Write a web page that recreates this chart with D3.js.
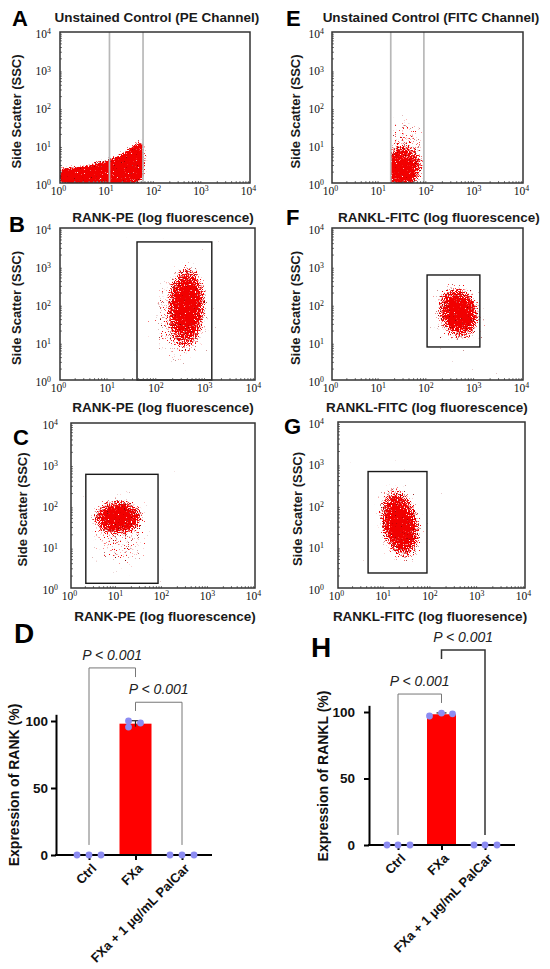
<!DOCTYPE html>
<html>
<head>
<meta charset="utf-8">
<script src="https://cdn.jsdelivr.net/npm/d3@7"></script>
<style>
  body { margin: 0; background: #fff; }
  svg { display: block; font-family: "Liberation Sans", Arial, sans-serif; }
</style>
</head>
<body>
<div id="figure"></div>
<script>
const width = 550;
const height = 969;

// log axes of the flow plots (decades)
const logTicks = [1, 10, 100, 1000, 10000];
const logTickExp = ["0", "1", "2", "3", "4"];
const minorTicks = [];
[1, 10, 100, 1000].forEach(d => { for (let m = 2; m < 10; m++) minorTicks.push(d * m); });

// gates (fluorescence / SSC units)
const gateAx = [11, 56];
const gateEx = [17, 84];
const gateBx = [38, 1300], gateBy = [1, 4300];
const gateFx = [98, 1250], gateFy = [7.4, 580];
const gateCx = [2.1, 78], gateCy = [1.3, 570];
const gateGx = [4.4, 80], gateGy = [2.3, 640];

// cell populations: [centre x, centre y, spread x (decades), spread y (decades), tilt deg, density]
const cloudAOutline = [[1, 1.04], [1, 2.3], [3, 2.9], [10, 4.2], [20, 6.3], [36, 10.5], [52, 13], [60, 8], [60, 2], [48, 1.04]];
const cloudE = [[28, 2.4, 0.38, 0.5, 0, 1], [36, 7, 0.4, 0.9, 0, 0.5]];
const cloudB = [[400, 90, 0.32, 0.92, 3, 1], [290, 45, 0.6, 1.15, 0, 0.5]];
const cloudF = [[450, 58, 0.34, 0.56, -15, 1], [440, 60, 0.55, 0.85, -10, 0.5]];
const cloudC = [[10.5, 52, 0.46, 0.35, 0, 1], [11, 22, 0.65, 0.9, 0, 0.45]];
const cloudG = [[21, 36, 0.33, 0.7, -12, 1], [21, 32, 0.5, 0.95, -12, 0.5]];

// bar charts
const barCategories = ["Ctrl", "FXa", "FXa + 1 μg/mL PalCar"];
const rankMeans = [0, 98, 0];
const rankSD = [0, 2.2, 0];
const rankPoints = [[0, 0, 0], [100, 95.5, 98.5], [0, 0, 0]];
const ranklMeans = [0, 98.3, 0];
const ranklSD = [0, 1, 0];
const ranklPoints = [[0, 0, 0], [97, 99.2, 98.6], [0, 0, 0]];
const rankCompare = [[0, 1, "P < 0.001"], [1, 2, "P < 0.001"]];
const ranklCompare = [[0, 1, "P < 0.001"], [1, 2, "P < 0.001"]];

const svg = d3.select("#figure")
    .append("svg")
        .attr("width", width)
        .attr("height", height);

const defs = svg.append("defs");

// soft density falloff of a population
const grad = defs.append("radialGradient").attr("id", "density");
[[0, 1], [0.35, 0.96], [0.6, 0.72], [0.8, 0.42], [1, 0]].forEach(s => {
    grad.append("stop").attr("offset", s[0]).attr("stop-color", "#fff").attr("stop-opacity", s[1]);
});

// stippled dot look of flow events, built from the density alpha
function stippleFilter(id, seed, blur) {
    const f = defs.append("filter").attr("id", id)
        .attr("x", "-20%").attr("y", "-20%").attr("width", "140%").attr("height", "140%")
        .attr("color-interpolation-filters", "sRGB");
    f.append("feGaussianBlur").attr("in", "SourceAlpha").attr("stdDeviation", blur).attr("result", "soft");
    f.append("feTurbulence").attr("type", "fractalNoise").attr("baseFrequency", 0.83)
        .attr("numOctaves", 2).attr("seed", seed).attr("result", "noise");
    f.append("feColorMatrix").attr("in", "noise").attr("type", "matrix")
        .attr("values", "0 0 0 0 0  0 0 0 0 0  0 0 0 0 0  1 0 0 0 0").attr("result", "n");
    f.append("feComposite").attr("in", "n").attr("in2", "soft").attr("operator", "arithmetic")
        .attr("k1", 0).attr("k2", 8).attr("k3", 6).attr("k4", -7.6).attr("result", "maskRed");
    f.append("feTurbulence").attr("type", "fractalNoise").attr("baseFrequency", 0.91)
        .attr("numOctaves", 2).attr("seed", seed + 11).attr("result", "noise2");
    f.append("feColorMatrix").attr("in", "noise2").attr("type", "matrix")
        .attr("values", "0 0 0 0 0  0 0 0 0 0  0 0 0 0 0  1 0 0 0 0").attr("result", "n2");
    f.append("feComposite").attr("in", "n2").attr("in2", "soft").attr("operator", "arithmetic")
        .attr("k1", 0).attr("k2", 7).attr("k3", 3).attr("k4", -6).attr("result", "maskDark");
    f.append("feFlood").attr("flood-color", "#f20000").attr("result", "red");
    f.append("feComposite").attr("in", "red").attr("in2", "maskRed").attr("operator", "in").attr("result", "redDots");
    f.append("feFlood").attr("flood-color", "#8a0a0a").attr("result", "dark");
    f.append("feComposite").attr("in", "dark").attr("in2", "maskDark").attr("operator", "in").attr("result", "darkDots");
    const m = f.append("feMerge").attr("result", "dots");
    m.append("feMergeNode").attr("in", "darkDots");
    m.append("feMergeNode").attr("in", "redDots");
    f.append("feGaussianBlur").attr("in", "dots").attr("stdDeviation", 0.3);
}
stippleFilter("stipple", 3, 0.6);
stippleFilter("stippleSoft", 5, 2.2);

function logLabel(sel) {
    sel.each(function(d, i) {
        const t = d3.select(this);
        t.text(null);
        t.append("tspan").text("10");
        t.append("tspan").attr("dy", "-0.5em").attr("font-size", "0.68em").text(logTickExp[i]);
    });
}

function flowPanel(cfg) {
    const x = d3.scaleLog().domain([1, 1e4]).range([cfg.x0, cfg.x1]);
    const y = d3.scaleLog().domain([1, 1e4]).range([cfg.y1, cfg.y0]);
    const g = svg.append("g");

    defs.append("clipPath").attr("id", "clip" + cfg.id)
        .append("rect")
            .attr("x", cfg.clipX ? x(cfg.clipX[0]) : cfg.x0)
            .attr("y", cfg.y0)
            .attr("width", cfg.clipX ? x(cfg.clipX[1]) - x(cfg.clipX[0]) : cfg.x1 - cfg.x0)
            .attr("height", cfg.y1 - cfg.y0);

    const dpx = (cfg.x1 - cfg.x0) / 4;
    const dpy = (cfg.y1 - cfg.y0) / 4;
    const cells = g.append("g").attr("clip-path", "url(#clip" + cfg.id + ")")
        .append("g").attr("filter", cfg.outline ? "url(#stippleSoft)" : "url(#stipple)");

    if (cfg.outline) {
        cells.append("path")
            .attr("d", d3.line().x(d => x(d[0])).y(d => y(d[1])).curve(d3.curveCatmullRomClosed)(cfg.outline))
            .attr("fill", "#fff");
    }
    if (cfg.cloud) {
        cells.selectAll("ellipse")
            .data(cfg.cloud)
            .enter()
            .append("ellipse")
                .attr("rx", d => d[2] * dpx * 1.35)
                .attr("ry", d => d[3] * dpy * 1.35)
                .attr("transform", d => "translate(" + x(d[0]) + "," + y(d[1]) + ") rotate(" + d[4] + ")")
                .attr("fill", "url(#density)")
                .attr("fill-opacity", d => d[5]);
    }

    // gates
    if (cfg.lines) {
        g.selectAll(".gate")
            .data(cfg.lines)
            .enter()
            .append("line")
                .attr("x1", d => x(d)).attr("x2", d => x(d))
                .attr("y1", cfg.y0).attr("y2", cfg.y1)
                .attr("stroke", "#b8b8b8").attr("stroke-width", 1.7);
    }
    if (cfg.gx) {
        g.append("rect")
            .attr("x", x(cfg.gx[0])).attr("width", x(cfg.gx[1]) - x(cfg.gx[0]))
            .attr("y", y(cfg.gy[1])).attr("height", y(cfg.gy[0]) - y(cfg.gy[1]))
            .attr("fill", "none").attr("stroke", "#1a1a1a").attr("stroke-width", 1.4);
    }

    // minor ticks
    g.append("g").attr("transform", "translate(0," + cfg.y1 + ")")
        .call(d3.axisTop(x).tickValues(minorTicks).tickSize(2).tickFormat(""))
        .call(a => a.select(".domain").remove())
        .selectAll("line").attr("stroke", "#777");
    g.append("g").attr("transform", "translate(" + cfg.x0 + ",0)")
        .call(d3.axisRight(y).tickValues(minorTicks).tickSize(2).tickFormat(""))
        .call(a => a.select(".domain").remove())
        .selectAll("line").attr("stroke", "#777");

    // frame
    g.append("rect")
        .attr("x", cfg.x0).attr("y", cfg.y0)
        .attr("width", cfg.x1 - cfg.x0).attr("height", cfg.y1 - cfg.y0)
        .attr("fill", "none").attr("stroke", "#333").attr("stroke-width", 1.5);

    const xAxis = g.append("g")
        .attr("transform", "translate(-2," + cfg.y1 + ")")
        .call(d3.axisBottom(x).tickValues(logTicks).tickSize(0).tickPadding(4).tickFormat(""));
    xAxis.select(".domain").remove();
    xAxis.attr("font-family", "'Liberation Serif', 'DejaVu Serif', serif").attr("font-size", 11.5);
    xAxis.selectAll(".tick text").attr("fill", "#111").call(logLabel);

    const yAxis = g.append("g")
        .attr("transform", "translate(" + cfg.x0 + ",0)")
        .call(d3.axisLeft(y).tickValues(logTicks).tickSize(0).tickPadding(cfg.yPad).tickFormat(""));
    yAxis.select(".domain").remove();
    yAxis.attr("font-family", "'Liberation Serif', 'DejaVu Serif', serif").attr("font-size", 11.5);
    yAxis.selectAll(".tick text").attr("fill", "#111").attr("dy", "0.45em").call(logLabel);

    g.append("text")
        .attr("transform", "translate(" + cfg.ylabX + "," + ((cfg.y0 + cfg.y1) / 2 + 4) + ") rotate(-90)")
        .attr("text-anchor", "middle")
        .attr("dy", "0.35em")
        .attr("font-size", 13).attr("font-weight", 700).attr("fill", "#1a1a1a")
        .text("Side Scatter (SSC)");

    if (cfg.title) {
        g.append("text")
            .attr("x", cfg.title[1]).attr("y", cfg.title[2])
            .attr("text-anchor", "middle")
            .attr("font-size", 13.5).attr("font-weight", 700).attr("fill", "#1a1a1a")
            .text(cfg.title[0]);
    }
    if (cfg.xtitle) {
        g.append("text")
            .attr("x", cfg.xtitle[1]).attr("y", cfg.xtitle[2])
            .attr("text-anchor", "middle")
            .attr("font-size", 13.5).attr("font-weight", 700).attr("fill", "#1a1a1a")
            .text(cfg.xtitle[0]);
    }
    g.append("text")
        .attr("x", cfg.letter[0]).attr("y", cfg.letter[1])
        .attr("font-size", 22).attr("font-weight", 700).attr("fill", "#000")
        .text(cfg.id);
}

flowPanel({ id: "A", x0: 60, x1: 250, y0: 32, y1: 183, yPad: 9, ylabX: 16, letter: [12, 26],
    title: ["Unstained Control (PE Channel)", 157, 22], lines: gateAx, outline: cloudAOutline });
flowPanel({ id: "E", x0: 332, x1: 523, y0: 32, y1: 183, yPad: 8, ylabX: 295, letter: [286, 26],
    title: ["Unstained Control (FITC Channel)", 431, 22], lines: gateEx, cloud: cloudE, clipX: gateEx });
flowPanel({ id: "B", x0: 60, x1: 255, y0: 228, y1: 380, yPad: 9, ylabX: 16, letter: [9, 232],
    title: ["RANK-PE (log fluorescence)", 163, 222], xtitle: ["RANK-PE (log fluorescence)", 163, 412],
    gx: gateBx, gy: gateBy, cloud: cloudB });
flowPanel({ id: "F", x0: 332, x1: 523, y0: 228, y1: 380, yPad: 8, ylabX: 295, letter: [286, 225],
    title: ["RANKL-FITC (log fluorescence)", 439, 222], xtitle: ["RANKL-FITC (log fluorescence)", 427, 412],
    gx: gateFx, gy: gateFy, cloud: cloudF });
flowPanel({ id: "C", x0: 71, x1: 255, y0: 423, y1: 588, yPad: 13, ylabX: 22, letter: [13, 445],
    xtitle: ["RANK-PE (log fluorescence)", 165, 621], gx: gateCx, gy: gateCy, cloud: cloudC });
flowPanel({ id: "G", x0: 338, x1: 525, y0: 422, y1: 588, yPad: 14, ylabX: 297, letter: [284, 434],
    xtitle: ["RANKL-FITC (log fluoresence)", 430, 621], gx: gateGx, gy: gateGy, cloud: cloudG });

function barPanel(cfg, means, sds, points, compare) {
    const x = d3.scalePoint().domain(barCategories).range([cfg.c0, cfg.c1]);
    const y = d3.scaleLinear().domain([0, 105]).range([cfg.base, cfg.base - 105 * cfg.k]);
    const g = svg.append("g");

    g.selectAll(".bar")
        .data(means)
        .enter()
        .append("rect")
            .attr("x", (d, i) => x(barCategories[i]) - cfg.barW / 2)
            .attr("width", cfg.barW)
            .attr("y", d => y(d))
            .attr("height", d => y(0) - y(d))
            .attr("fill", "#ff0000");

    // error bars
    means.forEach((m, i) => {
        if (!sds[i]) return;
        const cx = x(barCategories[i]);
        g.append("line").attr("x1", cx).attr("x2", cx).attr("y1", y(m - sds[i])).attr("y2", y(m + sds[i]))
            .attr("stroke", "#222").attr("stroke-width", 1.2);
        g.append("line").attr("x1", cx - 5).attr("x2", cx + 5).attr("y1", y(m + sds[i])).attr("y2", y(m + sds[i]))
            .attr("stroke", "#222").attr("stroke-width", 1.2);
    });

    // comparison brackets
    compare.forEach((c, j) => {
        const lv = cfg.brackets[j];
        const xa = x(barCategories[c[0]]), xb = x(barCategories[c[1]]);
        g.append("path")
            .attr("d", "M" + xa + "," + y(lv[1]) + "V" + y(lv[0]) + "H" + xb + "V" + y(lv[2]))
            .attr("fill", "none").attr("stroke", lv[3]).attr("stroke-width", lv[4]);
        g.append("text")
            .attr("x", (xa + xb) / 2).attr("y", y(lv[0]) - 8)
            .attr("text-anchor", "middle")
            .attr("font-size", 14).attr("font-style", "italic").attr("fill", "#222")
            .text(c[2]);
    });

    // axes
    const yAxis = g.append("g")
        .attr("transform", "translate(" + cfg.axisX + ",0)")
        .call(d3.axisLeft(y).tickValues([0, 50, 100]).tickSize(5).tickSizeOuter(0).tickPadding(cfg.yPad));
    yAxis.select(".domain").attr("stroke", "#000").attr("stroke-width", 2);
    yAxis.selectAll(".tick line").attr("stroke", "#000").attr("stroke-width", 2);
    yAxis.selectAll(".tick text").attr("font-family", "'Liberation Sans', Arial, sans-serif")
        .attr("font-size", 13.5).attr("font-weight", 700).attr("fill", "#111");

    const xAxis = g.append("g")
        .attr("transform", "translate(0," + cfg.base + ")")
        .call(d3.axisBottom(x).tickSize(5).tickSizeOuter(0).tickFormat(""));
    xAxis.select(".domain").remove();
    xAxis.selectAll(".tick line").attr("stroke", "#000").attr("stroke-width", 2);
    g.append("line")
        .attr("x1", cfg.axisX - 1).attr("x2", cfg.axisEnd)
        .attr("y1", cfg.base).attr("y2", cfg.base)
        .attr("stroke", "#000").attr("stroke-width", 2);

    g.selectAll(".cat")
        .data(barCategories)
        .enter()
        .append("text")
            .attr("transform", d => "translate(" + (x(d) + 5) + "," + (cfg.base + 11) + ") rotate(-45)")
            .attr("text-anchor", "end")
            .attr("dy", "0.35em")
            .attr("font-size", 13).attr("font-weight", 700).attr("fill", "#111")
            .text(d => d);

    // individual replicates
    points.forEach((vals, i) => {
        g.selectAll(null)
            .data(vals)
            .enter()
            .append("circle")
                .attr("cx", (d, k) => x(barCategories[i]) + cfg.dots[i][k])
                .attr("cy", d => y(d))
                .attr("r", 3.4)
                .attr("fill", "#8c8cf2");
    });

    g.append("text")
        .attr("transform", "translate(" + cfg.ylabX + "," + cfg.ylabY + ") rotate(-90)")
        .attr("text-anchor", "middle").attr("dy", "0.35em")
        .attr("font-size", 14).attr("font-weight", 700).attr("fill", "#111")
        .text(cfg.ylab);
    g.append("text")
        .attr("x", cfg.letter[0]).attr("y", cfg.letter[1])
        .attr("font-size", 28).attr("font-weight", 700).attr("fill", "#000")
        .text(cfg.id);
}

barPanel({ id: "D", c0: 89, c1: 182, base: 855, k: 1.34, barW: 32, axisX: 56, axisEnd: 212, yPad: 3,
    ylab: "Expression of RANK (%)", ylabX: 14, ylabY: 785, letter: [14, 643],
    dots: [[-12, 0, 12], [-7, -7, 5], [-12, 0, 12]],
    brackets: [[139.6, 7.5, 132.8, "#777", 1], [114, 107.5, 7.5, "#777", 1]] },
    rankMeans, rankSD, rankPoints, rankCompare);
barPanel({ id: "H", c0: 398, c1: 485, base: 845, k: 1.33, barW: 29, axisX: 369, axisEnd: 515, yPad: 9,
    ylab: "Expression of RANKL (%)", ylabX: 323, ylabY: 776, letter: [311, 657],
    dots: [[-11, 0, 12], [-12, 0, 11], [-11, 0, 12]],
    brackets: [[113.5, 7.5, 106.8, "#777", 1], [146.6, 139.8, 7.5, "#333", 1.5]] },
    ranklMeans, ranklSD, ranklPoints, ranklCompare);
</script>
</body>
</html>
